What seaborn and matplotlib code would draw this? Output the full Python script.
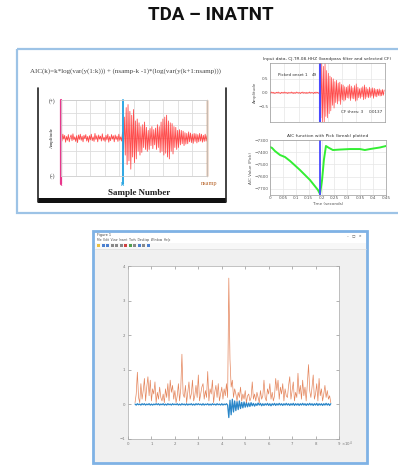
import numpy as np
import pandas as pd
import seaborn as sns
import matplotlib.pyplot as plt
from matplotlib.patches import Rectangle

# ---- data ----
# left sketch: seismogram, k = onset sample
seis_pre = [0.05,-0.08,0.1,-0.03,0.07,-0.11,0.04,-0.06,0.09,-0.1,
            0.02,0.08,-0.07,0.11,-0.05,0.03,-0.09,0.06,-0.12,0.08,
            -0.04,0.1,-0.06,0.05,-0.1,0.07,-0.02,0.09,-0.08,0.04,
            -0.11,0.06,-0.05,0.1,-0.07,0.03,-0.09,0.12,-0.04,0.06,
            -0.1,0.08,-0.03,0.05,-0.08,0.11,-0.06,0.02,-0.09,0.07,
            -0.05,0.1,-0.11,0.04,-0.07,0.09,-0.03,0.06,-0.1,0.08,
            -0.04,0.05,-0.09,0.1,-0.06,0.03,-0.08]
seis_post = [0.15,-0.3,0.55,-0.45,0.8,-0.7,0.88,-0.6,0.7,-0.82,
             0.6,-0.5,0.75,-0.65,0.45,-0.55,0.5,-0.35,0.4,-0.45,
             0.3,-0.38,0.35,-0.25,0.42,-0.3,0.28,-0.35,0.2,-0.3,
             0.25,-0.2,0.3,-0.28,0.22,-0.18,0.26,-0.3,0.35,-0.25,
             0.3,-0.38,0.42,-0.35,0.5,-0.45,0.55,-0.4,0.6,-0.5,
             0.45,-0.55,0.4,-0.35,0.38,-0.42,0.3,-0.25,0.28,-0.3,
             0.2,-0.25,0.22,-0.18,0.2,-0.15,0.18,-0.2,0.14,-0.16,
             0.12,-0.15,0.16,-0.1,0.13,-0.12,0.1,-0.14,0.12,-0.09,
             0.11,-0.13,0.09,-0.1,0.12,-0.08,0.1,-0.11,0.07,-0.09,
             0.1,-0.08,0.06]

# right top: filtered trace with picked onset
trace_pre = [0.01,-0.02,0.03,-0.01,0.02,-0.03,0.01,-0.02,0.02,-0.01,
             0.03,-0.02,0.01,-0.03,0.02,-0.01,0.02,-0.02,0.03,-0.01,
             0.01,-0.03,0.02,-0.02,0.01,-0.01,0.03,-0.02,0.02,-0.03,
             0.01,-0.02,0.03,-0.01,0.02,-0.02,0.01,-0.03,0.02,-0.01,
             0.03,-0.02,0.01,-0.02,0.02,-0.03,0.01,-0.01,0.03,-0.02,
             0.02,-0.01,0.01,-0.03,0.02,-0.02,0.03,-0.01,0.02,-0.02,
             0.01]
trace_post = [0.4,-0.9,1.1,-1.05,0.95,-1.1,1.05,-0.85,0.8,-0.9,
              0.7,-0.75,0.6,-0.65,0.55,-0.45,0.5,-0.55,0.4,-0.35,
              0.45,-0.4,0.35,-0.3,0.38,-0.42,0.3,-0.25,0.28,-0.3,
              0.22,-0.26,0.2,-0.18,0.25,-0.2,0.3,-0.28,0.24,-0.2,
              0.18,-0.22,0.26,-0.3,0.32,-0.27,0.2,-0.18,0.15,-0.2,
              0.18,-0.15,0.22,-0.25,0.28,-0.22,0.2,-0.16,0.14,-0.18,
              0.2,-0.17,0.15,-0.12,0.18,-0.2,0.16,-0.13,0.12,-0.15,
              0.13,-0.1,0.14,-0.12,0.1,-0.11,0.12,-0.09,0.1]

# right bottom: AIC function
aic_t = [0, 0.008, 0.019, 0.039, 0.058, 0.078, 0.116, 0.155, 0.186, 0.194,
         0.202, 0.209, 0.217, 0.229, 0.244, 0.272, 0.31, 0.349, 0.368, 0.388, 0.427, 0.45]
aic_v = [-7357, -7365, -7390, -7423, -7439, -7472, -7545, -7627, -7709, -7742,
         -7627, -7464, -7349, -7365, -7382, -7378, -7374, -7374, -7382, -7374, -7361, -7349]
aic_pick = 0.194

# bottom MATLAB figure (x in 1e4 samples)
orange = [0.05,0.3,0.93,0.2,0.05,0.6,0.15,0.4,0.75,0.1,
          0.5,0.8,0.25,0.7,0.1,0.45,0.3,0.65,0.05,0.35,
          0.15,0.5,0.2,0.1,0.3,0.05,0.45,0.2,0.6,0.1,
          0.7,0.35,0.55,0.15,0.4,0.05,0.25,0.6,0.1,0.45,
          1.45,0.3,0.2,0.55,0.05,0.35,0.65,0.15,0.3,0.7,
          0.1,0.25,0.55,0.2,0.85,0.1,0.3,0.5,0.6,0.15,
          0.4,0.2,0.95,0.1,0.45,0.3,0.7,0.05,0.35,0.55,
          0.2,0.6,0.1,0.3,0.5,0.15,0.45,0.25,0.6,0.2,
          3.65,1.3,0.5,0.7,0.2,0.45,0.3,0.1,0.35,0.2,
          0.5,0.1,0.3,0.15,0.4,0.05,0.25,0.3,0.1,0.2,
          0.65,0.15,0.3,0.1,0.35,0.2,0.05,0.4,0.15,0.25,
          0.7,0.2,0.1,0.45,0.3,0.6,0.15,0.35,0.1,0.25,
          0.75,0.4,0.7,0.15,0.5,0.3,0.6,0.1,0.45,0.25,
          0.2,0.55,0.8,0.15,0.4,0.65,0.1,0.35,0.2,0.9,
          0.3,0.55,0.15,0.7,0.25,0.5,0.1,0.6,1.15,0.4,
          0.2,0.5,0.85,0.15,0.3,0.6,0.1,0.75,0.25,0.45,
          0.1,0.3,0.55,0.2,0.4,0.15,0.25,0.05]
blue = [0.01,-0.02,0.02,-0.01,0.01,-0.02,0.02,-0.01,0.02,-0.02,
        0.01,-0.01,0.02,-0.02,0.01,-0.02,0.01,-0.01,0.02,-0.01,
        0.02,-0.02,0.01,-0.01,0.02,-0.02,0.01,-0.02,0.02,-0.01,
        0.01,-0.02,0.02,-0.01,0.01,-0.01,0.02,-0.02,0.01,-0.02,
        0.02,-0.01,0.01,-0.02,0.02,-0.02,0.01,-0.01,0.02,-0.02,
        0.01,-0.02,0.02,-0.01,0.02,-0.01,0.01,-0.02,0.02,-0.02,
        0.01,-0.01,0.02,-0.02,0.01,-0.02,0.02,-0.01,0.01,-0.02,
        0.02,-0.01,0.01,-0.02,0.02,-0.02,0.01,-0.01,0.02,-0.02,
        -0.38,0.12,-0.3,0.15,-0.22,0.1,-0.18,0.08,-0.15,0.1,
        -0.12,0.06,-0.1,0.07,-0.08,0.05,-0.07,0.04,-0.06,0.05,
        -0.04,0.03,-0.05,0.02,-0.03,0.04,-0.02,0.03,-0.04,0.02,
        -0.03,0.02,-0.02,0.03,-0.03,0.02,-0.04,0.02,-0.02,0.03,
        -0.03,0.02,-0.02,0.03,-0.02,0.02,-0.03,0.02,-0.02,0.03,
        -0.02,0.02,-0.03,0.02,-0.02,0.03,-0.03,0.02,-0.02,0.02,
        -0.03,0.02,-0.02,0.03,-0.02,0.02,-0.03,0.02,-0.02,0.03,
        -0.02,0.02,-0.03,0.02,-0.02,0.03,-0.03,0.02,-0.02,0.02,
        -0.03,0.02,-0.02,0.03,-0.02,0.02,-0.03,0.02]

sns.set_theme(style="white")
plt.rcParams['font.family'] = ['DejaVu Sans']

W, H = 398, 468


def px(x0, y0, x1, y1):
    return [x0 / W, 1 - y1 / H, (x1 - x0) / W, (y1 - y0) / H]


fig = plt.figure(figsize=(W / 100, H / 100), dpi=100)
bg = fig.add_axes([0, 0, 1, 1])
bg.set_xlim(0, W)
bg.set_ylim(H, 0)
bg.axis('off')

bg.text(211, 15, "TDA – INATNT", ha='center', va='center', fontsize=13.5,
        fontweight='bold', family='Roboto', color='#111111')

# upper box
bg.add_patch(Rectangle((17, 49), 400, 164, fill=False, ec='#9dc3e6', lw=1.6))
bg.text(30, 71, "AIC(k)=k*log(var(y(1:k))) + (nsamp-k -1)*(log(var(y(k+1:nsamp)))",
        ha='left', va='center', fontsize=5, family='Liberation Serif', color='#444444')

# sketch frame
bg.plot([38, 38], [88, 202], color='#222222', lw=1.2)
bg.plot([226, 226], [88, 202], color='#222222', lw=1.2)
bg.add_patch(Rectangle((38, 198), 188, 5, fc='#111111', ec='none'))
bg.text(52, 101, "(+)", ha='center', va='center', fontsize=4, family='Liberation Serif')
bg.text(52, 176, "(-)", ha='center', va='center', fontsize=4, family='Liberation Serif')
bg.text(52, 138, "Amplitude", ha='center', va='center', fontsize=3.5, rotation=90,
        family='Liberation Serif')
bg.text(61, 184, "1", ha='center', va='center', fontsize=4.5, color='#e8378c', family='Liberation Serif')
bg.text(122, 184, "k", ha='center', va='center', fontsize=4.5, color='#1ea0e0', family='Liberation Serif')
bg.text(209, 183, "nsamp", ha='center', va='center', fontsize=4.5, color='#b8652a', family='Liberation Serif')
bg.text(139, 193, "Sample Number", ha='center', va='center', fontsize=6.5, fontweight='bold',
        family='Liberation Serif', color='#222222')

# left seismogram
seis = seis_pre + seis_post
df_s = pd.DataFrame({'n': np.arange(len(seis)), 'amp': seis})
ax1 = fig.add_axes(px(61, 100, 207, 176))
sns.lineplot(data=df_s, x='n', y='amp', ax=ax1, color='#ff3b3b', lw=0.6, alpha=0.9, estimator=None)
ax1.set_xlim(0, len(seis) - 1)
ax1.set_ylim(-1, 1)
ax1.set_xticks(np.linspace(0, len(seis) - 1, 11))
ax1.set_yticks(np.linspace(-1, 1, 7))
ax1.grid(True, color='#dddddd', lw=0.6)
ax1.tick_params(labelbottom=False, labelleft=False, length=0)
ax1.set_xlabel('')
ax1.set_ylabel('')
for s in ax1.spines.values():
    s.set_color('#cccccc')
    s.set_linewidth(0.6)
ax1.axvline(0, ymin=-0.1, ymax=1, color='#e8378c', lw=1.6, clip_on=False)
ax1.axvline(len(seis_pre), ymin=-0.1, ymax=1, color='#1ea0e0', lw=1.3, clip_on=False)
ax1.axvline(len(seis) - 1, ymin=0, ymax=1, color='#b8652a', lw=1.0, clip_on=False)

# right top trace
tr = trace_pre + trace_post
df_t = pd.DataFrame({'n': np.arange(len(tr)), 'amp': tr})
ax2 = fig.add_axes(px(270, 63, 385, 122))
sns.lineplot(data=df_t, x='n', y='amp', ax=ax2, color='#ff4848', lw=0.5, estimator=None)
ax2.set_xlim(0, len(tr))
ax2.set_ylim(-1.05, 1.07)
ax2.set_yticks([-0.5, 0, 0.5])
ax2.set_xticks(np.linspace(0, len(tr), 9))
ax2.grid(True, color='#e6e6e6', lw=0.5)
ax2.tick_params(labelbottom=False, labelsize=3, length=0, pad=1, colors='#555555')
ax2.axvline(len(trace_pre), color='#4a4aff', lw=1.5)
ax2.set_xlabel('')
ax2.set_ylabel('Amplitude', fontsize=3, labelpad=1, color='#555555')
ax2.set_title("Input data, CJ.TR.08.HHZ (bandpass filter and selected CF)", fontsize=3.2,
              pad=2, color='#333333')
ax2.text(0.07, 0.78, "Picked onset 1", transform=ax2.transAxes, fontsize=3, color='#333333')
ax2.text(0.36, 0.78, "49", transform=ax2.transAxes, fontsize=3, color='#333333')
ax2.text(0.62, 0.15, "CF thres: 3", transform=ax2.transAxes, fontsize=3, color='#333333')
ax2.text(0.86, 0.15, "0.0137", transform=ax2.transAxes, fontsize=3, color='#333333')
for s in ax2.spines.values():
    s.set_color('#999999')
    s.set_linewidth(0.5)

# right bottom AIC
df_a = pd.DataFrame({'t': aic_t, 'aic': aic_v})
ax3 = fig.add_axes(px(270, 140, 386, 195))
sns.lineplot(data=df_a, x='t', y='aic', ax=ax3, color='#33ee33', lw=1.4, estimator=None)
ax3.axvline(aic_pick, color='#4a4aff', lw=1.3)
ax3.set_xlim(0, 0.45)
ax3.set_ylim(-7750, -7300)
ax3.set_xticks([0, 0.05, 0.1, 0.15, 0.2, 0.25, 0.3, 0.35, 0.4, 0.45])
ax3.set_xticklabels(['0', '0.05', '0.1', '0.15', '0.2', '0.25', '0.3', '0.35', '0.4', '0.45'])
ax3.set_yticks([-7700, -7600, -7500, -7400, -7300])
ax3.grid(True, color='#e6e6e6', lw=0.5)
ax3.tick_params(labelsize=3, length=0, pad=1, colors='#555555')
ax3.set_xlabel('Time (seconds)', fontsize=3, labelpad=1, color='#555555')
ax3.set_ylabel('AIC Value (Pick)', fontsize=3, labelpad=1, color='#555555')
ax3.set_title("AIC function with Pick (break) plotted", fontsize=3.2, pad=2, color='#333333')
for s in ax3.spines.values():
    s.set_color('#999999')
    s.set_linewidth(0.5)

# MATLAB window
bg.add_patch(Rectangle((93, 231), 274, 232, fc='#f0f0f0', ec='#7fb2e5', lw=2))
bg.add_patch(Rectangle((94.5, 232.5), 271, 10, fc='white', ec='none'))
bg.add_patch(Rectangle((94.5, 242.5), 271, 6, fc='#f7f7f7', ec='none'))
bg.plot([94.5, 365.5], [249, 249], color='#dddddd', lw=0.5)
bg.text(97, 235, "Figure 1", fontsize=2.5, va='center', color='#444444')
bg.text(97, 239.5, "File  Edit  View  Insert  Tools  Desktop  Window  Help", fontsize=2.1,
        va='center', color='#444444')
bg.text(362, 235, "–   □   ×", fontsize=2.5, va='center', ha='right', color='#444444')
for i, c in enumerate(['#e8c040', '#4a7fd0', '#4a7fd0', '#888888', '#888888', '#888888',
                       '#d04040', '#50a050', '#888888', '#4a7fd0', '#888888', '#4a7fd0']):
    bg.add_patch(Rectangle((97 + i * 4.5, 244), 3, 3, fc=c, ec='none'))

ax4 = fig.add_axes(px(128, 266, 339, 439))
df_o = pd.DataFrame({'x': np.arange(len(orange)) * 0.05 + 0.3, 'y': orange})
df_b = pd.DataFrame({'x': np.arange(len(blue)) * 0.05 + 0.3, 'y': blue})
sns.lineplot(data=df_b, x='x', y='y', ax=ax4, color='#2a86c8', lw=0.9, estimator=None)
sns.lineplot(data=df_o, x='x', y='y', ax=ax4, color='#D95319', lw=0.5, alpha=0.7, estimator=None)
ax4.set_xlim(0, 9)
ax4.set_ylim(-1, 4)
ax4.set_xticks(range(10))
ax4.set_yticks(range(-1, 5))
ax4.tick_params(labelsize=2.8, direction='in', length=2, width=0.4, pad=2,
                colors='#777777', top=True, right=True, bottom=True, left=True)
ax4.set_xlabel('')
ax4.set_ylabel('')
for s in ax4.spines.values():
    s.set_color('#aaaaaa')
    s.set_linewidth(0.5)
ax4.text(1.01, -0.04, r"$\times10^4$", transform=ax4.transAxes, fontsize=2.8, color='#777777')

plt.savefig("out.png", dpi=100)
plt.close()
